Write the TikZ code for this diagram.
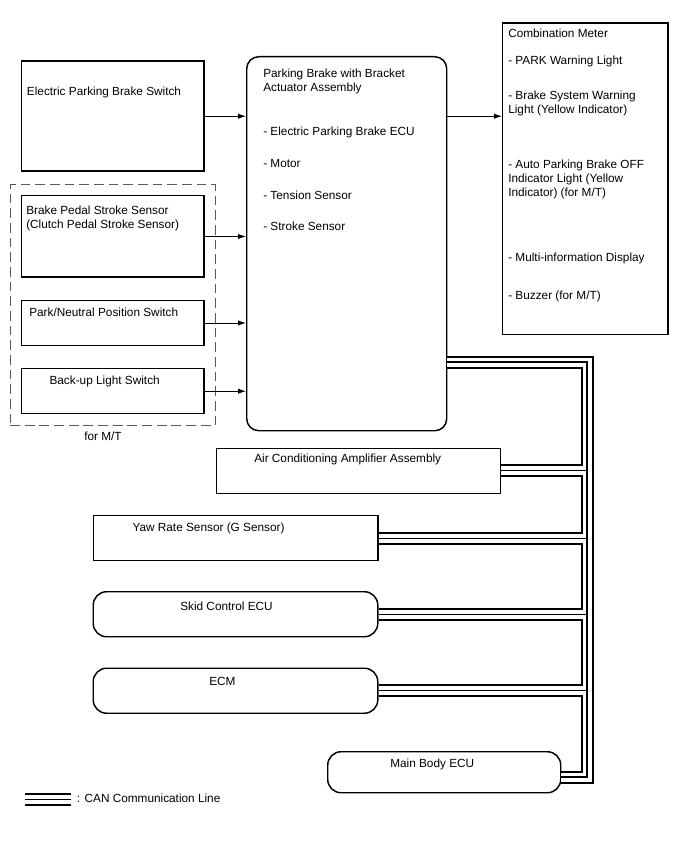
\documentclass[tikz,border=0pt]{standalone}
\usepackage{fontspec}
\setmainfont{Liberation Sans}
\usetikzlibrary{arrows.meta, calc}
\tikzstyle{unit} = [
    rectangle,
    anchor=north west,
    inner sep=0pt,
    line width=1.1pt,
    draw=black
]
\tikzstyle{ecu} = [
    unit,
    rounded corners=10pt
]
\tikzstyle{group} = [
    rectangle,
    anchor=north west,
    inner sep=0pt,
    line width=0.9pt,
    dash pattern=on 7.3pt off 3.7pt,
    draw=black!65
]
\tikzstyle{txt} = [
    anchor=west,
    inner sep=0pt,
    align=left,
    font=\fontsize{8.85}{10.5}\selectfont
]
\tikzstyle{arrow} = [line width=0.7pt,-{Latex[length=6pt,width=4pt]}]
\tikzstyle{can} = [
    line width=0.9pt,
    line join=miter,
    preaction={draw, line join=miter, line width=9.75pt},
    preaction={draw, white, line join=miter, line width=6.75pt}
]

\begin{document}
\begin{tikzpicture}[x=0.75pt, y=-0.75pt]
\path[use as bounding box] (0,0) rectangle (688,852);

\node (epbsw) [unit, minimum width=136.9pt, minimum height=82.5pt] at (20.5,60.5) {};
\node (pb) [ecu, rounded corners=9pt, minimum width=150pt, minimum height=280.5pt] at (246,56) {};
\node (cm) [unit, minimum width=124.1pt, minimum height=233.6pt] at (502,22.5) {};
\node (mt) [group, minimum width=153.75pt, minimum height=180.75pt] at (9.5,184) {};
\node (bpss) [unit, minimum width=136.9pt, minimum height=61.1pt] at (20.5,195) {};
\node (pnps) [unit, minimum width=136.9pt, minimum height=34.1pt] at (20.5,299.5) {};
\node (bkup) [unit, minimum width=136.9pt, minimum height=33.75pt] at (20.5,368) {};
\node (ac) [unit, minimum width=213pt, minimum height=33.75pt] at (216,447.5) {};
\node (yaw) [unit, minimum width=213.4pt, minimum height=33.75pt] at (92.5,515) {};
\node (skid) [ecu, minimum width=213.4pt, minimum height=33.75pt] at (92.5,591) {};
\node (ecm) [ecu, minimum width=213.4pt, minimum height=33.75pt] at (92.5,667.5) {};
\node (mb) [ecu, minimum width=174.75pt, minimum height=30.75pt] at (327,751) {};

\node (epbswtxt) [txt] at (26.7,92) {Electric Parking Brake Switch};
\node (pbtxt) [txt] at (263,81) {Parking Brake with Bracket\\Actuator Assembly};
\node (pbecu) [txt] at (263,132.7) {- Electric Parking Brake ECU};
\node (pbmotor) [txt] at (263,163.3) {- Motor};
\node (pbtension) [txt] at (263,195) {- Tension Sensor};
\node (pbstroke) [txt] at (263,226.7) {- Stroke Sensor};
\node (cmtxt) [txt] at (508,33.3) {Combination Meter};
\node (cmpark) [txt] at (508,61) {- PARK Warning Light};
\node (cmbrake) [txt] at (508,103.3) {- Brake System Warning\\Light (Yellow Indicator)};
\node (cmauto) [txt] at (508,179.3) {- Auto Parking Brake OFF\\Indicator Light (Yellow\\Indicator) (for M/T)};
\node (cmmid) [txt] at (508,258.3) {- Multi-information Display};
\node (cmbuzz) [txt] at (508,296.7) {- Buzzer (for M/T)};
\node (bpsstxt) [txt] at (26,218.3) {Brake Pedal Stroke Sensor\\(Clutch Pedal Stroke Sensor)};
\node (pnpstxt) [txt] at (29,312.3) {Park/Neutral Position Switch};
\node (bkuptxt) [txt] at (49.3,381) {Back-up Light Switch};
\node (mttxt) [txt, anchor=center] at (103,436.7) {for M/T};
\node (actxt) [txt] at (254,459.3) {Air Conditioning Amplifier Assembly};
\node (yawtxt) [txt] at (132.3,528.3) {Yaw Rate Sensor (G Sensor)};
\node (skidtxt) [txt] at (180,606) {Skid Control ECU};
\node (ecmtxt) [txt] at (209,681.7) {ECM};
\node (mbtxt) [txt] at (390,764) {Main Body ECU};
\node (legtxt) [txt] at (76.7,798.3) {: CAN Communication Line};

\draw [arrow] (epbsw.east) -- (epbsw.east -| pb.west);
\draw [arrow] (bpss.east) -- (bpss.east -| pb.west);
\draw [arrow] (pnps.east) -- (pnps.east -| pb.west);
\draw [arrow] (bkup.east) -- (bkup.east -| pb.west);
\draw [arrow] (pb.east |- epbsw.east) -- (cm.west |- epbsw.east);

\coordinate (bustop) at (587,362);
\coordinate (busbot) at (587,777);
\draw [can] (pb.east |- bustop) -- (bustop) -- (busbot) -- (mb.east |- busbot)
    (ac.east) -- (ac.east -| bustop)
    (yaw.east) -- (yaw.east -| bustop)
    (skid.east) -- (skid.east -| bustop)
    (ecm.east) -- (ecm.east -| bustop);

\coordinate (legl) at (25,799.5);
\coordinate (legr) at (70.7,799.5);
\draw [can] (legl) -- (legr);

\end{tikzpicture}
\end{document}
